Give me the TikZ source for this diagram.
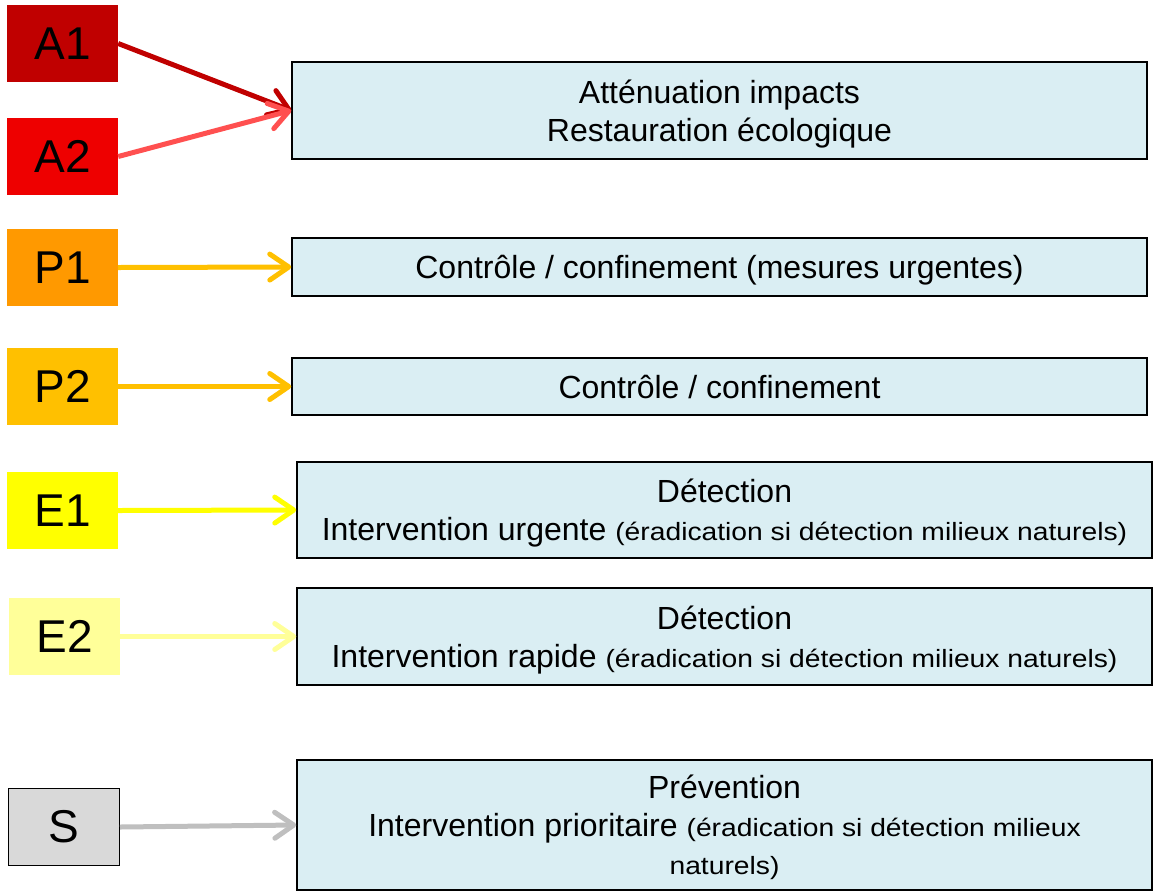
\documentclass[tikz,border=0pt]{standalone}
\usepackage{fontspec}
\setmainfont{Liberation Sans}
\newfontfamily\smallfont[FakeStretch=1.13]{Liberation Sans}
\usetikzlibrary{arrows.meta,positioning}
\definecolor{cA1}{HTML}{C00000}
\definecolor{cA2}{HTML}{EE0000}
\definecolor{lA2}{HTML}{FF5050}
\definecolor{cP1}{HTML}{FF9900}
\definecolor{cP2}{HTML}{FFC000}
\definecolor{cE1}{HTML}{FFFF00}
\definecolor{cE2}{HTML}{FFFF99}
\definecolor{cS}{HTML}{D9D9D9}
\definecolor{lS}{HTML}{BFBFBF}
\definecolor{actblue}{HTML}{DAEEF3}
\tikzstyle{level}=[rectangle,minimum width=111pt,minimum height=77pt,
inner sep=0pt,font=\fontsize{46}{50}\selectfont]
\tikzstyle{action}=[rectangle,draw=black,line width=1.5pt,fill=actblue,
minimum width=855pt,inner sep=0pt,text depth=-5pt,align=center,font=\fontsize{32}{38}\selectfont]
\tikzstyle{link}=[line width=5pt,->]
\newcommand{\petit}[1]{{\smallfont\fontsize{25}{38}\selectfont #1}}

\begin{document}
\begin{tikzpicture}[x=1pt,y=-1pt,>={Straight Barb[length=19pt,width=26pt,round]}]
            \useasboundingbox (0,0) rectangle (1153,895);

            % A PART

            \node[level,fill=cA1] (a1) at (62.5,43.5) {A1};
            \node[level,fill=cA2] (a2) at (62.5,156.5) {A2};
            \node[action,minimum height=97pt] (attenuation) at (719.5,110.5)
                {Atténuation impacts\\Restauration écologique};

            \path[link,cA1] (a1.east) edge (attenuation.west);
            \path[link,lA2] (a2.east) edge (attenuation.west);

            % P PART

            \node[level,fill=cP1] (p1) at (62.5,267.5) {P1};
            \node[level,fill=cP2] (p2) at (62.5,386.5) {P2};
            \node[action,minimum height=58pt] (urgent) at (719.5,267)
                {Contrôle / confinement (mesures urgentes)};
            \node[action,minimum height=57pt] (controle) at (719.5,386.5)
                {Contrôle / confinement};

            \path[link,cP2] (p1.east) edge (urgent.west);
            \path[link,cP2] (p2.east) edge (controle.west);

            % E PART

            \node[level,fill=cE1] (e1) at (62.5,510.5) {E1};
            \node[level,fill=cE2] (e2) at (64.5,636.5) {E2};
            \node[action,minimum height=96pt] (detect1) at (724.5,510)
                {Détection\\Intervention urgente \petit{(éradication si détection milieux naturels)}};
            \node[action,minimum height=97pt] (detect2) at (724.5,636.5)
                {Détection\\Intervention rapide \petit{(éradication si détection milieux naturels)}};

            \path[link,cE1] (e1.east) edge (detect1.west);
            \path[link,cE2] (e2.east) edge (detect2.west);

            % S PART

            \node[level,fill=cS,draw=black,line width=1pt] (s) at (64,827) {S};
            \node[action,minimum height=130pt] (prevention) at (724.5,825)
                {Prévention\\Intervention prioritaire \petit{(éradication si détection milieux}\\\petit{naturels)}};

            \path[link,lS] (s.east) edge (prevention.west);

        \end{tikzpicture}
\end{document}
